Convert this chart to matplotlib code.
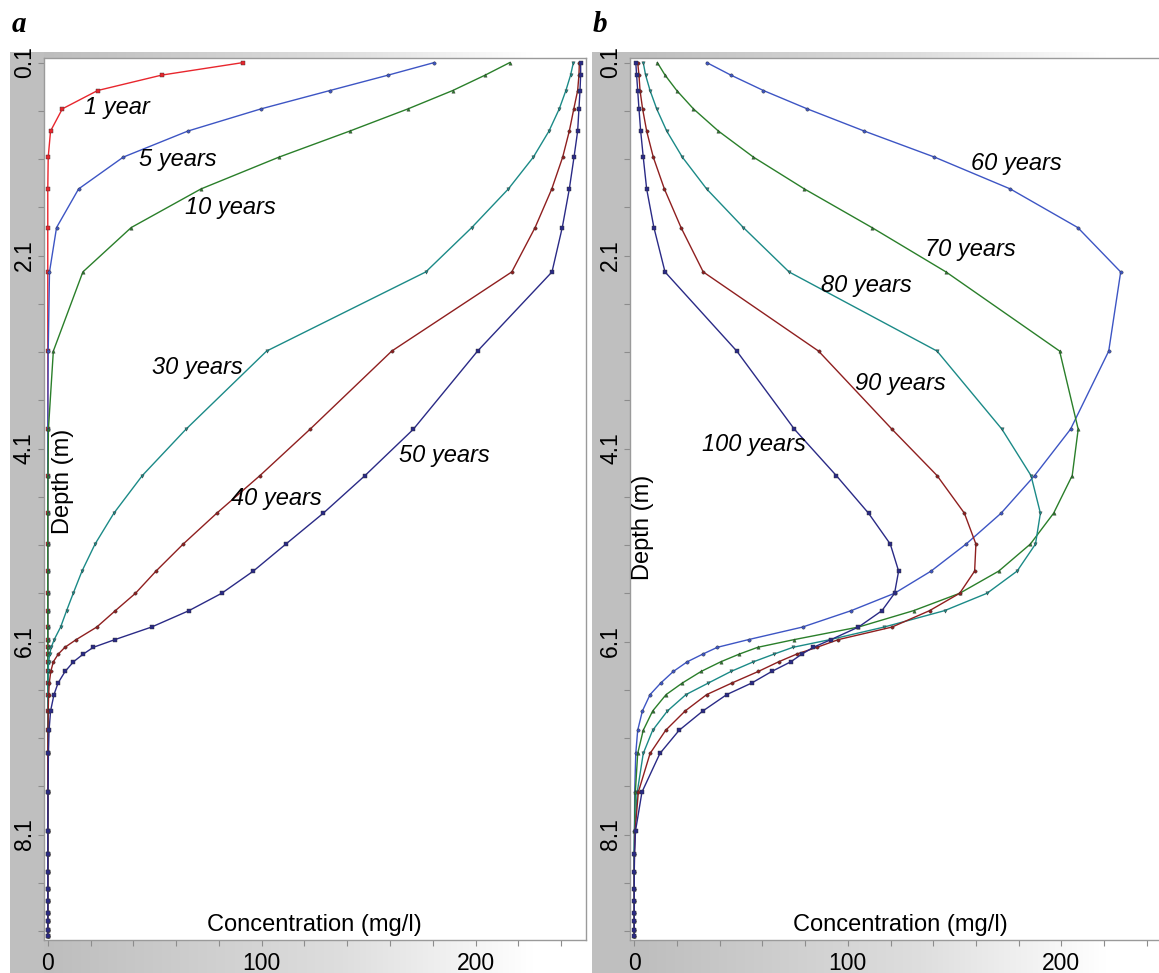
import numpy as np
import matplotlib
matplotlib.use("Agg")
import matplotlib.pyplot as plt
from matplotlib.patches import Rectangle
from matplotlib.colors import LinearSegmentedColormap

plt.rcParams['font.family'] = ['Liberation Sans', 'DejaVu Sans']

# depth of the model nodes (m), shared by all profiles
depth = [0.10, 0.23, 0.39, 0.58, 0.81, 1.08, 1.41, 1.81, 2.27, 3.09,
         3.90, 4.38, 4.77, 5.09, 5.37, 5.60, 5.78, 5.95, 6.08, 6.16,
         6.23, 6.31, 6.41, 6.53, 6.65, 6.82, 7.02, 7.26, 7.66, 8.06,
         8.30, 8.49, 8.66, 8.79, 8.91, 9.00, 9.09, 9.15]

# panel a - concentration (mg/l)
conc_1 = [91.4, 53.3, 23.3, 6.8, 1.3, 0.2, 0, 0, 0, 0,
          0, 0, 0, 0, 0, 0, 0, 0, 0, 0,
          0, 0, 0, 0, 0, 0, 0, 0, 0, 0,
          0, 0, 0, 0, 0, 0, 0, 0]
conc_5 = [180.7, 159.2, 131.9, 99.7, 65.5, 35.3, 14.4, 4.1, 0.8, 0.2,
          0, 0, 0, 0, 0, 0, 0, 0, 0, 0,
          0, 0, 0, 0, 0, 0, 0, 0, 0, 0,
          0, 0, 0, 0, 0, 0, 0, 0]
conc_10 = [216.0, 204.5, 189.3, 168.4, 141.2, 108.1, 71.6, 39.0, 16.4, 2.6,
           0.3, 0.1, 0, 0, 0, 0, 0, 0, 0, 0,
           0, 0, 0, 0, 0, 0, 0, 0, 0, 0,
           0, 0, 0, 0, 0, 0, 0, 0]
conc_30 = [245.7, 244.4, 242.2, 239.1, 234.3, 227.0, 215.3, 198.2, 176.7, 102.3,
           64.6, 44.2, 30.9, 22.1, 16.0, 11.9, 8.8, 6.0, 3.0, 1.6,
           0.9, 0.4, 0.2, 0.1, 0, 0, 0, 0, 0, 0,
           0, 0, 0, 0, 0, 0, 0, 0]
conc_40 = [248.5, 248.3, 247.7, 245.9, 243.8, 240.7, 235.6, 227.8, 216.9, 160.8,
           122.6, 99.2, 79.0, 63.3, 50.6, 41.0, 31.6, 22.9, 13.3, 8.0,
           4.9, 2.6, 1.4, 0.7, 0.4, 0.2, 0.1, 0, 0, 0,
           0, 0, 0, 0, 0, 0, 0, 0]
conc_50 = [249.1, 249.1, 248.8, 248.3, 247.7, 246.0, 243.8, 240.5, 235.7, 200.9,
           170.9, 148.3, 128.8, 111.3, 96.1, 81.3, 66.0, 48.5, 31.4, 21.3,
           16.6, 12.0, 8.1, 4.8, 2.9, 1.3, 0.6, 0.3, 0.1, 0,
           0, 0, 0, 0, 0, 0, 0, 0]

# panel b
conc_60 = [33.9, 45.2, 60.5, 81.0, 107.7, 140.6, 176.1, 207.7, 227.8, 222.2,
           204.3, 187.5, 171.8, 155.4, 139.0, 121.9, 101.6, 78.8, 53.5, 38.9,
           32.1, 24.8, 18.3, 12.4, 7.4, 3.8, 1.6, 0.7, 0.2, 0.1,
           0, 0, 0, 0, 0, 0, 0, 0]
conc_70 = [10.8, 14.4, 19.9, 27.7, 39.4, 55.8, 79.7, 111.3, 146.0, 199.2,
           207.9, 205.1, 196.4, 185.5, 170.7, 152.4, 130.8, 105.0, 74.9, 57.8,
           49.2, 40.5, 31.3, 22.5, 14.9, 8.6, 4.2, 1.6, 0.5, 0.1,
           0, 0, 0, 0, 0, 0, 0, 0]
conc_80 = [4.2, 5.3, 7.4, 10.5, 15.2, 22.5, 33.9, 51.1, 72.5, 141.8,
           172.2, 185.8, 190.2, 187.9, 179.3, 165.2, 145.3, 117.0, 91.7, 74.3,
           65.5, 55.8, 45.3, 34.7, 24.2, 15.5, 8.6, 4.2, 1.4, 0.2,
           0, 0, 0, 0, 0, 0, 0, 0]
conc_90 = [1.6, 2.2, 2.7, 3.9, 5.8, 8.9, 14.1, 21.9, 32.3, 86.3,
           120.7, 141.8, 154.6, 160.0, 159.4, 152.4, 138.3, 120.7, 95.6, 85.5,
           76.1, 67.6, 58.1, 45.7, 33.9, 23.8, 14.7, 7.4, 1.9, 0.4,
           0.1, 0, 0, 0, 0, 0, 0, 0]
conc_100 = [0.7, 1.1, 1.6, 2.2, 3.0, 4.2, 5.8, 9.2, 14.4, 48.0,
            75.0, 94.6, 109.7, 119.9, 123.8, 121.9, 116.0, 105.0, 92.1, 83.9,
            78.5, 73.3, 64.4, 55.0, 43.3, 32.1, 21.0, 12.0, 3.6, 0.6,
            0.1, 0, 0, 0, 0, 0, 0, 0]

labels_a = ["1 year", "5 years", "10 years", "30 years", "40 years", "50 years"]
labels_b = ["60 years", "70 years", "80 years", "90 years", "100 years"]

y_ticks = [0.1, 2.1, 4.1, 6.1, 8.1]
y_minor = [0.1, 0.6, 1.1, 1.6, 2.1, 2.6, 3.1, 3.6, 4.1, 4.6, 5.1, 5.6, 6.1,
           6.6, 7.1, 7.6, 8.1, 8.6, 9.1]
x_ticks = [0, 100, 200]
x_minor = [0, 20, 40, 60, 80, 100, 120, 140, 160, 180, 200, 220, 240]

red = '#e8262d'
blue = '#3d55c4'
green = '#2a7f2a'
teal = '#1b8a87'
brown = '#8f1f1f'
navy = '#2a2a86'

W, H = 1159, 973
fig = plt.figure(figsize=(W / 100, H / 100), dpi=100)


def rect(x0, y0, x1, y1):
    return [x0 / W, 1 - y1 / H, (x1 - x0) / W, (y1 - y0) / H]


# grey frames behind the two plots
bg = fig.add_axes([0, 0, 1, 1], zorder=-5)
fade = LinearSegmentedColormap.from_list(
    'fade', [(0, '#bdbdbd'), (0.55, '#dedede'), (0.9, '#ffffff'), (1, '#ffffff')])
grad = np.linspace(0, 1, 256).reshape(1, -1)
for x0, xa, x1 in [(10, 43.5, 586), (592, 630, 1159)]:
    bg.add_patch(Rectangle((x0, 52), xa - x0, H - 52, color='#bfbfbf', lw=0))
    bg.imshow(grad, extent=(xa, x1, 58, 52), cmap=fade, aspect='auto')
    bg.imshow(grad, extent=(xa, x1, H, 940), cmap=fade, aspect='auto')
bg.set_xlim(0, W)
bg.set_ylim(H, 0)
bg.axis('off')

ax_a = fig.add_axes(rect(43.5, 58, 586, 940))
ax_b = fig.add_axes(rect(630, 58, 630 + 541.5, 940))

series_a = [(conc_1, red, 's'), (conc_5, blue, 'o'), (conc_10, green, '^'),
            (conc_30, teal, 'v'), (conc_40, brown, 'o'), (conc_50, navy, 's')]
series_b = [(conc_60, blue, 'o'), (conc_70, green, '^'), (conc_80, teal, 'v'),
            (conc_90, brown, 'o'), (conc_100, navy, 's')]

for ax, series in [(ax_a, series_a), (ax_b, series_b)]:
    for vals, col, mk in series:
        ax.plot(vals, depth, color=col, lw=1.0, marker=mk, ms=2.4,
                mfc=col, mec='#333333', mew=0.3)
    ax.set_xlim(-2, 251.6)
    ax.set_ylim(9.193, 0.053)
    ax.set_xticks(x_ticks)
    ax.set_xticks(x_minor, minor=True)
    ax.set_yticks(y_ticks)
    ax.set_yticks(y_minor, minor=True)
    ax.set_yticklabels([str(v) for v in y_ticks], rotation=90, va='center')
    ax.tick_params(which='both', direction='out', length=4.5, width=0.8,
                   color='#8c8c8c', labelsize=16.5)
    ax.tick_params(axis='x', pad=4)
    ax.tick_params(axis='y', pad=1)
    for s in ax.spines.values():
        s.set_color('#9a9a9a')
        s.set_linewidth(1.0)
    ax.text(0.5, 0.004, "Concentration (mg/l)", transform=ax.transAxes,
            ha='center', va='bottom', fontsize=17)

ax_a.text(6.9, 4.44, "Depth (m)", rotation=90, ha='center', va='center', fontsize=17)
ax_b.text(4.1, 4.92, "Depth (m)", rotation=90, ha='center', va='center', fontsize=17)

pos_a = [(32.4, 0.57), (60.9, 1.11), (85.2, 1.60), (69.8, 3.26), (106.7, 4.62), (185.2, 4.17)]
pos_b = [(179.0, 1.15), (157.4, 2.04), (108.6, 2.41), (124.6, 3.43), (56.1, 4.06)]
for lab, (x, y) in zip(labels_a, pos_a):
    ax_a.text(x, y, lab, style='italic', fontsize=17, ha='center', va='center')
for lab, (x, y) in zip(labels_b, pos_b):
    ax_b.text(x, y, lab, style='italic', fontsize=17, ha='center', va='center')

fig.text(19 / W, 1 - 25 / H, "a", family='Liberation Serif', weight='bold',
         style='italic', fontsize=21, ha='center', va='center')
fig.text(600 / W, 1 - 25 / H, "b", family='Liberation Serif', weight='bold',
         style='italic', fontsize=21, ha='center', va='center')

fig.savefig("out.png", dpi=100)
